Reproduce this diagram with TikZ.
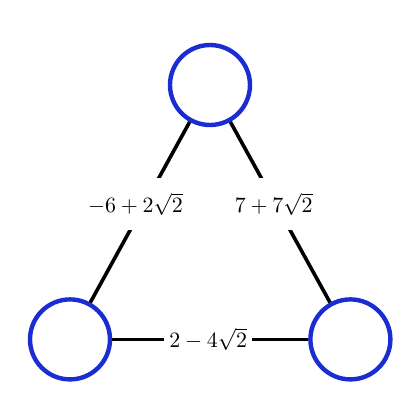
\documentclass[tikz,border=0pt]{standalone}
\usepackage{tikz}
\usetikzlibrary{positioning}
\definecolor{vblue}{RGB}{25,45,210}

\begin{document}
\begin{tikzpicture}

	\tikzstyle{vertex}=[circle,draw=vblue,line width=2.2pt,fill=white,
		minimum size=40pt,inner sep=0pt]
	\tikzstyle{edge}=[line width=1.8pt,black]
	\tikzstyle{weight}=[fill=white,inner xsep=2.5pt,inner ysep=7.5pt,
		font=\fontsize{10.5pt}{12pt}\selectfont]

	\useasboundingbox (-105pt,42.5pt) rectangle (105pt,-167.5pt);

	\node[vertex](top){};
	\node[vertex,below=85pt of top,xshift=-70pt](left){};
	\node[vertex,right=98pt of left](right){};

	\draw[edge] (top) -- node[weight,pos=0.455,xshift=-4.5pt]{$-6+2\sqrt{2}$} (left);
	\draw[edge] (top) -- node[weight,pos=0.455,xshift=-1pt]{$7+7\sqrt{2}$} (right);
	\draw[edge] (left) -- node[weight,xshift=-1pt]{$2-4\sqrt{2}$} (right);

\end{tikzpicture}
\end{document}
